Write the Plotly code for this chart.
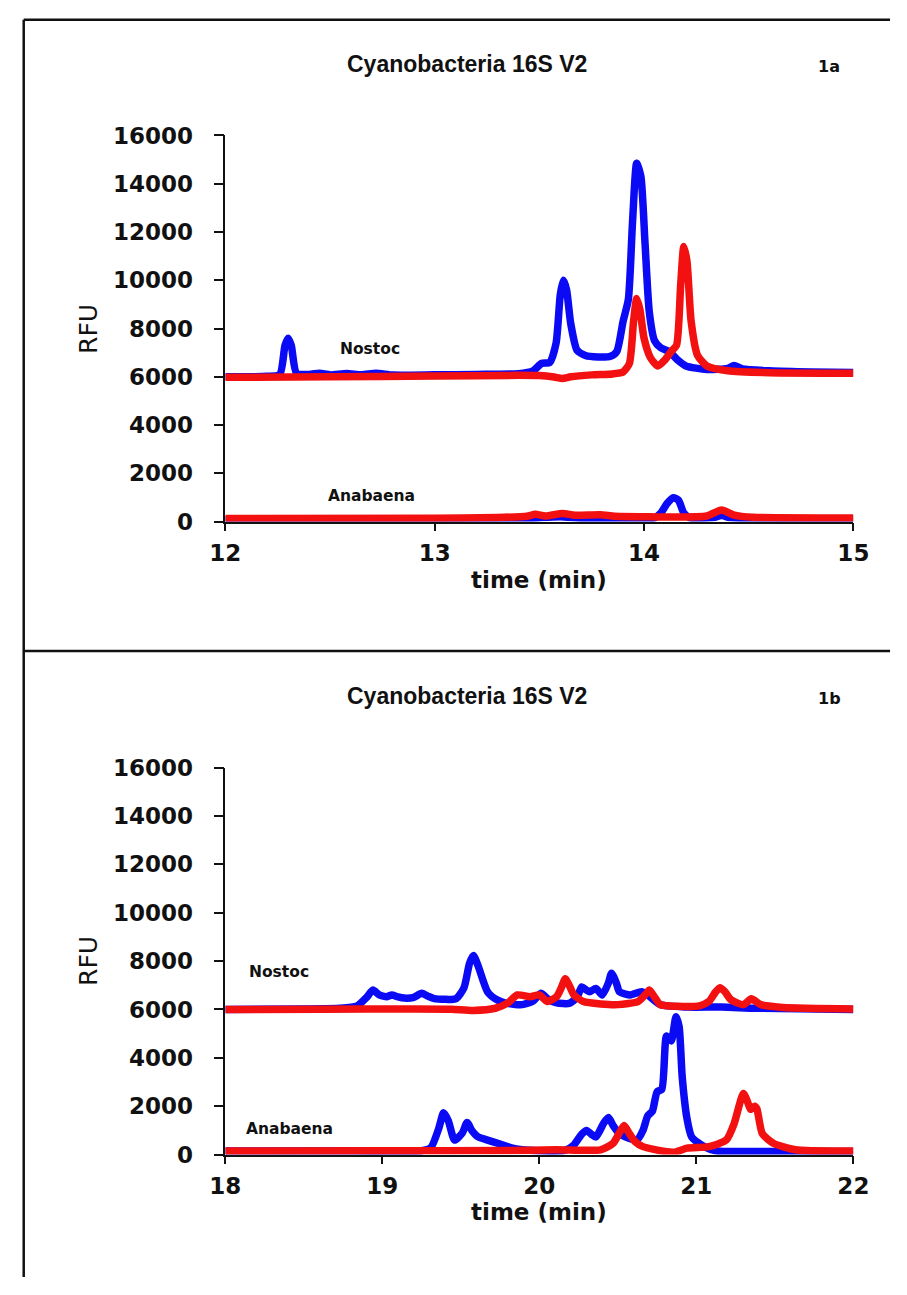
import plotly.graph_objects as go

# ---- Panel 1a: 12-15 min ----
a_nostoc_blue_t = [12.00, 12.20, 12.26, 12.285, 12.30, 12.315, 12.34, 12.40, 12.45, 12.50, 12.58, 12.65,
                   12.72, 12.80, 13.00, 13.20, 13.40, 13.47, 13.51, 13.55, 13.58, 13.60, 13.615, 13.63,
                   13.65, 13.68, 13.72, 13.78, 13.84, 13.87, 13.90, 13.925, 13.945, 13.965, 13.985, 14.005,
                   14.025, 14.05, 14.08, 14.12, 14.16, 14.20, 14.30, 14.40, 14.43, 14.47, 14.60, 14.80, 15.00]
a_nostoc_blue_v = [6000, 6020, 6100, 7300, 7600, 7300, 6150, 6100, 6150, 6080, 6140, 6080,
                   6150, 6070, 6080, 6100, 6130, 6250, 6550, 6600, 7400, 9400, 10000, 9600,
                   8200, 7100, 6880, 6820, 6850, 7050, 8300, 9200, 12400, 14850, 14300, 11500,
                   8700, 7500, 7200, 7050, 6700, 6450, 6300, 6350, 6470, 6330, 6250, 6200, 6180]

a_nostoc_red_t = [12.00, 12.50, 13.00, 13.40, 13.50, 13.57, 13.61, 13.65, 13.75, 13.85, 13.90, 13.93,
                  13.95, 13.965, 13.98, 14.00, 14.03, 14.065, 14.10, 14.13, 14.155, 14.175, 14.19,
                  14.205, 14.225, 14.255, 14.30, 14.40, 14.60, 15.00]
a_nostoc_red_v = [5980, 6000, 6030, 6060, 6050, 5990, 5930, 6000, 6080, 6120, 6200, 6550,
                  8300, 9250, 8800, 7600, 6800, 6450, 6700, 7050, 7300, 9800, 11400,
                  10800, 8300, 6900, 6450, 6250, 6170, 6150]

a_anab_blue_t = [12.00, 13.00, 13.40, 13.50, 13.60, 13.70, 13.90, 14.05, 14.08, 14.11, 14.14, 14.165,
                 14.19, 14.22, 14.34, 14.37, 14.40, 14.50, 15.00]
a_anab_blue_v = [80, 90, 100, 160, 200, 140, 120, 150, 350, 750, 990, 880,
                 350, 150, 180, 260, 180, 120, 100]

a_anab_red_t = [12.00, 13.00, 13.30, 13.44, 13.48, 13.53, 13.61, 13.67, 13.79, 13.86, 14.00, 14.10,
                14.30, 14.37, 14.43, 14.52, 15.00]
a_anab_red_v = [130, 140, 170, 220, 300, 230, 340, 260, 280, 220, 200, 190,
                230, 480, 270, 180, 150]

# ---- Panel 1b: 18-22 min ----
b_nostoc_blue_t = [18.00, 18.50, 18.73, 18.84, 18.90, 18.94, 18.98, 19.03, 19.06, 19.10, 19.14, 19.20,
                   19.25, 19.29, 19.33, 19.47, 19.52, 19.555, 19.58, 19.61, 19.67, 19.73, 19.78, 19.89,
                   19.96, 20.01, 20.06, 20.11, 20.19, 20.24, 20.27, 20.30, 20.32, 20.36, 20.40, 20.44,
                   20.46, 20.49, 20.51, 20.58, 20.65, 20.69, 20.77, 20.94, 21.16, 21.38, 22.00]
b_nostoc_blue_v = [6000, 6020, 6050, 6150, 6500, 6800, 6600, 6530, 6600, 6520, 6470, 6500,
                   6670, 6550, 6450, 6450, 6900, 7900, 8230, 7800, 6730, 6400, 6270, 6200,
                   6350, 6670, 6400, 6270, 6250, 6500, 6930, 6800, 6730, 6870, 6600, 7100,
                   7500, 7100, 6730, 6600, 6730, 6600, 6200, 6100, 6100, 6050, 6000]

b_nostoc_red_t = [18.00, 18.60, 19.20, 19.44, 19.58, 19.72, 19.80, 19.86, 19.94, 20.00, 20.05, 20.11,
                  20.14, 20.165, 20.19, 20.22, 20.28, 20.39, 20.50, 20.63, 20.68, 20.70, 20.73, 20.77,
                  20.88, 21.02, 21.08, 21.12, 21.15, 21.18, 21.22, 21.30, 21.35, 21.41, 21.55, 22.00]
b_nostoc_red_v = [6000, 6010, 6020, 6010, 5960, 6050, 6270, 6600, 6530, 6600, 6330, 6530,
                  6900, 7270, 7000, 6600, 6330, 6230, 6200, 6330, 6650, 6800, 6550, 6200,
                  6130, 6150, 6330, 6700, 6900, 6750, 6400, 6200, 6440, 6200, 6080, 6020]

b_anab_blue_t = [18.00, 18.80, 19.25, 19.31, 19.36, 19.39, 19.42, 19.46, 19.51, 19.54, 19.57, 19.61,
                 19.67, 19.75, 19.83, 19.94, 20.16, 20.22, 20.27, 20.30, 20.33, 20.36, 20.41, 20.44,
                 20.47, 20.51, 20.55, 20.62, 20.66, 20.69, 20.72, 20.75, 20.78, 20.81, 20.84, 20.87,
                 20.89, 20.91, 20.94, 20.97, 21.05, 21.13, 21.40, 22.00]
b_anab_blue_v = [150, 150, 160, 300, 1100, 1730, 1400, 600, 900, 1330, 1000, 730,
                 600, 440, 270, 180, 170, 400, 850, 1000, 850, 730, 1300, 1530,
                 1200, 870, 730, 600, 1000, 1600, 1800, 2600, 2700, 4900, 4700, 5700,
                 5300, 3200, 1500, 730, 330, 150, 130, 130]

b_anab_red_t = [18.00, 19.00, 19.80, 20.11, 20.39, 20.47, 20.51, 20.54, 20.57, 20.61, 20.66, 20.80,
                20.86, 20.94, 21.08, 21.19, 21.24, 21.28, 21.30, 21.325, 21.345, 21.37, 21.385, 21.42,
                21.49, 21.63, 22.00]
b_anab_red_v = [150, 160, 170, 200, 200, 470, 900, 1200, 900, 530, 330, 130,
                100, 270, 330, 600, 1270, 2200, 2530, 2200, 1870, 2000, 1900, 870,
                470, 200, 150]

y_ticks = [0, 2000, 4000, 6000, 8000, 10000, 12000, 14000, 16000]
y_tick_text = ["0", "2000", "4000", "6000", "8000", "10000", "12000", "14000", "16000"]
panels = [
    dict(title="Cyanobacteria 16S V2", tag="1a", xr=[12, 15], xticks=[12, 13, 14, 15],
         traces=[(a_nostoc_blue_t, a_nostoc_blue_v, "blue"), (a_anab_blue_t, a_anab_blue_v, "blue"),
                 (a_nostoc_red_t, a_nostoc_red_v, "red"), (a_anab_red_t, a_anab_red_v, "red")],
         labels=[("Nostoc", 12.54, 7150), ("Anabaena", 12.48, 1050)]),
    dict(title="Cyanobacteria 16S V2", tag="1b", xr=[18, 22], xticks=[18, 19, 20, 21, 22],
         traces=[(b_nostoc_blue_t, b_nostoc_blue_v, "blue"), (b_anab_blue_t, b_anab_blue_v, "blue"),
                 (b_nostoc_red_t, b_nostoc_red_v, "red"), (b_anab_red_t, b_anab_red_v, "red")],
         labels=[("Nostoc", 18.14, 7550), ("Anabaena", 18.12, 1050)]),
]

W, H = 907, 1295
colors = {"blue": "#0a0af5", "red": "#f21010"}
tick_font = dict(family="DejaVu Sans", size=23, color="#111111", weight="bold")

# pixel layout of each panel (plot box top/bottom, title row)
boxes = [dict(top=125, bottom=519, title_y=52, xt_y=579, rfu_y=322),
         dict(top=770, bottom=1165, title_y=697, xt_y=1224, rfu_y=967)]
x_left, x_right = 217, 868

fig = go.Figure()
annotations = []
for i, (p, b) in enumerate(zip(panels, boxes)):
    n = "" if i == 0 else str(i + 1)
    xa, ya = "x" + n, "y" + n
    for t, v, c in p["traces"]:
        fig.add_trace(go.Scatter(x=t, y=v, mode="lines", xaxis=xa, yaxis=ya,
                                 line=dict(color=colors[c], width=7.5, shape="spline", smoothing=0.6),
                                 showlegend=False, hoverinfo="skip"))
    common = dict(showgrid=False, zeroline=False, showline=True, linecolor="#111111", linewidth=1.5,
                  ticks="outside", tickcolor="#111111", tickwidth=1.5, tickfont=tick_font)
    fig.layout["xaxis" + n] = dict(common, domain=[x_left / W, x_right / W], range=p["xr"],
                                   tickvals=p["xticks"], ticklen=8, ticklabelstandoff=2,
                                   anchor=ya, fixedrange=True)
    fig.layout["yaxis" + n] = dict(common, domain=[1 - b["bottom"] / H, 1 - b["top"] / H], range=[0, 16000],
                                   tickvals=y_ticks, ticktext=y_tick_text, ticklen=10, ticklabelstandoff=16,
                                   anchor=xa, fixedrange=True)
    annotations += [
        dict(text=p["title"], x=468 / W, y=1 - b["title_y"] / H, xref="paper", yref="paper",
             showarrow=False,
             font=dict(family="Liberation Sans Narrow, Arial Narrow, Liberation Sans", size=23,
                       color="#111111", weight="bold"),
             xanchor="center", yanchor="middle"),
        dict(text=p["tag"], x=843 / W, y=1 - (b["title_y"] + 3) / H, xref="paper", yref="paper",
             showarrow=False, font=dict(family="DejaVu Sans", size=16, color="#111111", weight="bold"),
             xanchor="center", yanchor="middle"),
        dict(text="time (min)", x=(x_left + x_right) / 2 / W, y=1 - b["xt_y"] / H, xref="paper", yref="paper",
             showarrow=False, font=dict(family="DejaVu Sans", size=23, color="#111111", weight="bold"),
             xanchor="center", yanchor="middle"),
        dict(text="RFU", x=75 / W, y=1 - b["rfu_y"] / H, xref="paper", yref="paper", textangle=-90,
             showarrow=False, font=dict(family="DejaVu Sans", size=25, color="#111111"),
             xanchor="center", yanchor="middle"),
    ]
    for txt, lx, ly in p["labels"]:
        annotations.append(dict(text=txt, x=lx, y=ly, xref=xa, yref=ya, showarrow=False,
                                font=dict(family="DejaVu Sans", size=15.5, color="#111111", weight="bold"),
                                xanchor="left", yanchor="middle"))

# frame around the figure and divider between the two panels
line = dict(color="#111111", width=2.5)
shapes = [
    dict(type="line", xref="paper", yref="paper", x0=8 / W, x1=8 / W, y0=1 - 7 / H, y1=1 - 1290 / H, line=line),
    dict(type="line", xref="paper", yref="paper", x0=8 / W, x1=906 / W, y0=1 - 7 / H, y1=1 - 7 / H, line=line),
    dict(type="line", xref="paper", yref="paper", x0=8 / W, x1=906 / W, y0=1 - 651 / H, y1=1 - 651 / H, line=line),
]

fig.update_layout(width=W, height=H, margin=dict(l=0, r=0, t=0, b=0),
                  paper_bgcolor="white", plot_bgcolor="white",
                  annotations=annotations, shapes=shapes)
fig.write_html("out.html", config={"displayModeBar": False},
               post_script="document.body.style.margin='0';document.body.style.overflow='hidden';")
